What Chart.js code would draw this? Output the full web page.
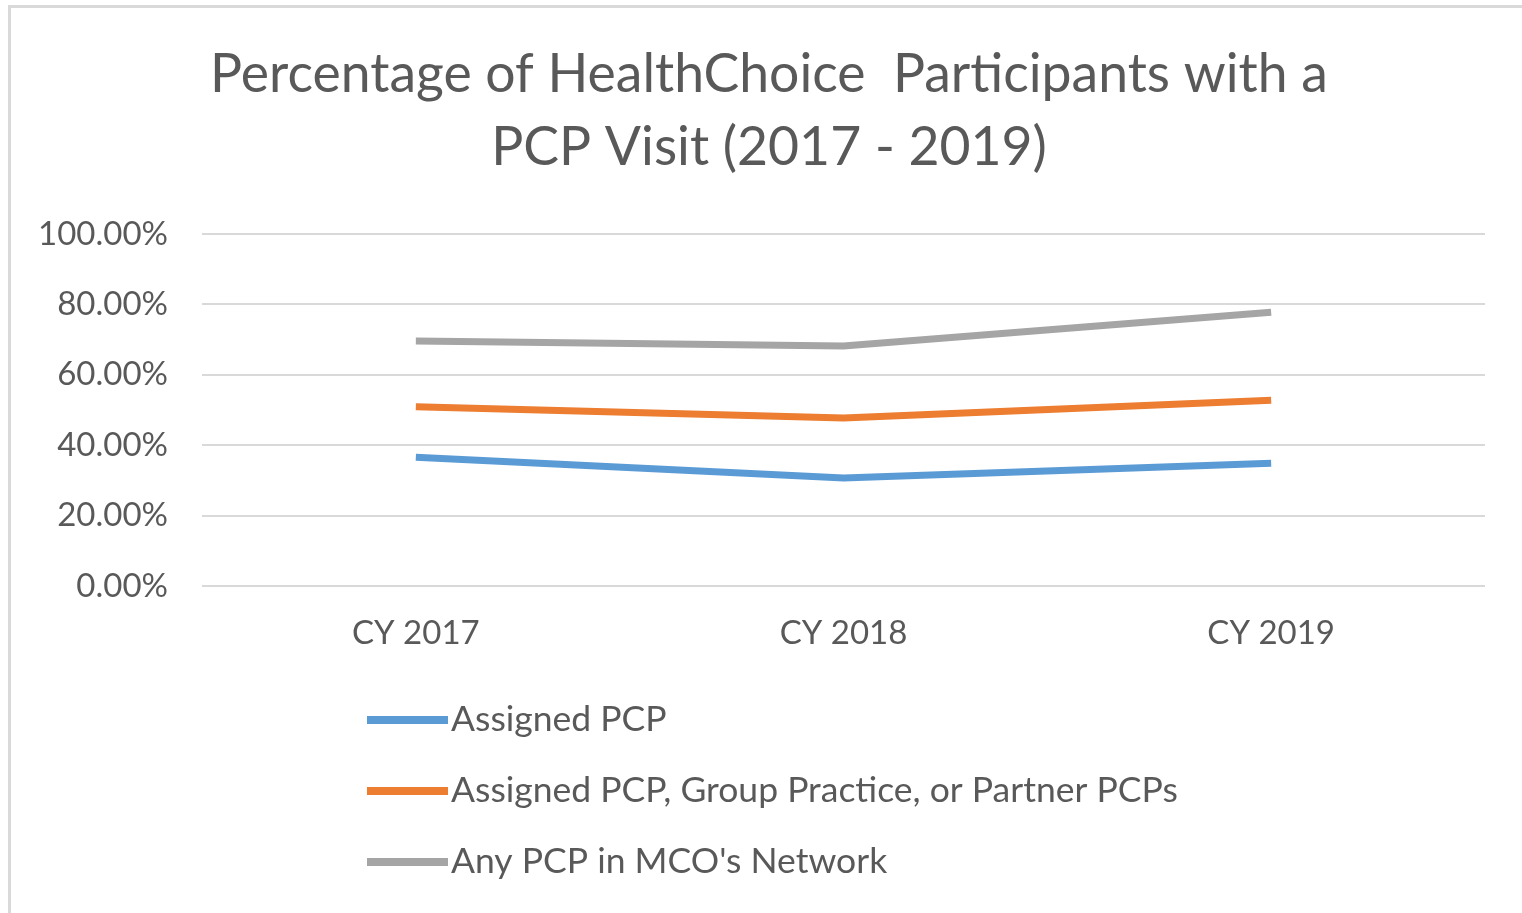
<!DOCTYPE html>
<html>
<head>
<meta charset="utf-8">
<script src="https://cdn.jsdelivr.net/npm/chart.js@4.4.1/dist/chart.umd.min.js"></script>
<style>
    html, body { margin: 0; padding: 0; background: #fff; overflow: hidden; }
    .wrap { position: relative; width: 1522px; height: 913px; }
    .frame {
        position: absolute; left: 8px; top: 5px; width: 1600px; height: 1000px;
        border: 3px solid #d9d9d9; pointer-events: none;
    }
</style>
</head>
<body>
<div class="wrap">
    <canvas id="pcpChart" width="1522" height="913"></canvas>
    <div class="frame"></div>
</div>
<script>
// Chart data (percent)
const years = ['CY 2017', 'CY 2018', 'CY 2019'];
const assignedPcp = [36.6, 30.7, 34.9];
const groupOrPartner = [50.9, 47.7, 52.8];
const anyInNetwork = [69.6, 68.2, 77.8];
const seriesNames = [
    'Assigned PCP',
    'Assigned PCP, Group Practice, or Partner PCPs',
    "Any PCP in MCO's Network"
];
const seriesColors = ['#5b9bd5', '#ed7d31', '#a5a5a5'];
const titleLines = ['Percentage of HealthChoice  Participants with a', 'PCP Visit (2017 - 2019)'];

const textColor = '#595959';
const fontFamily = 'Lato, "Open Sans", sans-serif';

// Title centred on the whole chart box (Excel centres it a bit right of the canvas middle)
const boxTitle = {
    id: 'boxTitle',
    afterDraw(chart) {
        const ctx = chart.ctx;
        ctx.save();
        ctx.font = '53.5px ' + fontFamily;
        ctx.fillStyle = textColor;
        ctx.textAlign = 'center';
        ctx.textBaseline = 'middle';
        titleLines.forEach((line, i) => {
            ctx.fillText(line, 769, 75 + i * 73);
        });
        ctx.restore();
    }
};

// Legend drawn as a vertical list under the plot, like the Excel original
const stackedLegend = {
    id: 'stackedLegend',
    afterDraw(chart) {
        const ctx = chart.ctx;
        ctx.save();
        ctx.font = '35.5px ' + fontFamily;
        ctx.textBaseline = 'middle';
        chart.data.datasets.forEach((ds, i) => {
            const y = 720 + i * 71;
            ctx.strokeStyle = ds.borderColor;
            ctx.lineWidth = 8;
            ctx.beginPath();
            ctx.moveTo(367, y);
            ctx.lineTo(448, y);
            ctx.stroke();
            ctx.fillStyle = textColor;
            ctx.fillText(ds.label, 451, y);
        });
        ctx.restore();
    }
};

const seriesData = [assignedPcp, groupOrPartner, anyInNetwork];

new Chart(document.getElementById('pcpChart'), {
    type: 'line',
    data: {
        labels: years,
        datasets: seriesData.map((values, i) => ({
            label: seriesNames[i],
            data: values,
            borderColor: seriesColors[i],
            backgroundColor: seriesColors[i],
            borderWidth: 7,
            pointRadius: 0,
            tension: 0
        }))
    },
    options: {
        responsive: false,
        animation: false,
        layout: {
            padding: { left: 30, right: 37, top: 234, bottom: 260 }
        },
        plugins: {
            legend: { display: false },
            tooltip: { enabled: false },
            title: { display: false }
        },
        scales: {
            x: {
                offset: true,
                grid: { display: false },
                border: { display: false },
                ticks: {
                    color: textColor,
                    font: { family: fontFamily, size: 33 },
                    padding: 20
                },
                afterFit(scale) { scale.height = 67; }
            },
            y: {
                min: 0,
                max: 100,
                grid: { color: '#d9d9d9', lineWidth: 2, drawTicks: false },
                border: { display: false },
                ticks: {
                    stepSize: 20,
                    color: textColor,
                    font: { family: fontFamily, size: 33 },
                    padding: 34,
                    callback: function(value) {
                        return value.toFixed(2) + '%';
                    }
                },
                afterFit(scale) { scale.width = 172; }
            }
        }
    },
    plugins: [boxTitle, stackedLegend]
});
</script>
</body>
</html>
